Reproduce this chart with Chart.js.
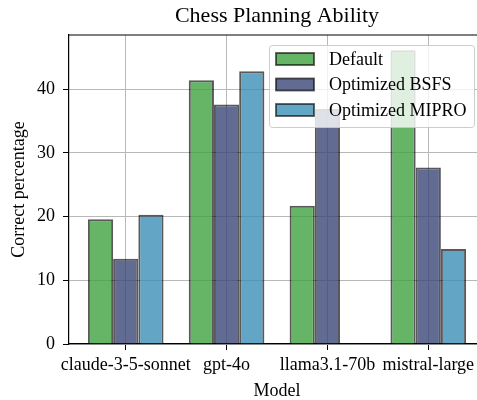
<!DOCTYPE html>
<html><head><meta charset="utf-8">
<script src="https://cdn.jsdelivr.net/npm/chart.js@4/dist/chart.umd.min.js"></script>
<style>html,body{margin:0;padding:0;overflow:hidden;background:#fff;width:477px;height:400px}canvas{display:block}</style>
</head><body>
<canvas id="c" width="485" height="400"></canvas>
<script>
const categories = ['claude-3-5-sonnet', 'gpt-4o', 'llama3.1-70b', 'mistral-large'];
const seriesNames = ['Default', 'Optimized BSFS', 'Optimized MIPRO'];
const defaultValues = [19.6, 41.4, 21.7, 46.1];
const bsfsValues = [13.4, 37.6, 36.9, 27.7];
const miproValues = [20.3, 42.8, null, 14.9];
const yTicks = [0, 10, 20, 30, 40];

const FONT = "'Liberation Serif', 'Times New Roman', serif";
const fills = ['rgba(64,161,64,0.8)', 'rgba(59,70,119,0.8)', 'rgba(60,143,182,0.8)'];
const edge = 'rgba(0,0,0,0.65)';

function toPoints(vals) { return vals.map((v, i) => ({x: i, y: v})); }
const seriesValues = [defaultValues, bsfsValues, miproValues];

const datasets = seriesNames.map((name, k) => ({
  label: name,
  data: toPoints(seriesValues[k]),
  backgroundColor: fills[k],
  borderColor: edge,
  borderWidth: 2,
  categoryPercentage: 0.75,
  barPercentage: 1.0
}));

const framePlugin = {
  id: 'frameAndLegend',
  afterDatasetsDraw(chart) {
    const ctx = chart.ctx, a = chart.chartArea;
    ctx.save();
    ctx.strokeStyle = '#000'; ctx.lineWidth = 1.2;
    ctx.beginPath(); ctx.moveTo(a.left, a.top); ctx.lineTo(a.right, a.top); ctx.stroke();
    ctx.beginPath(); ctx.moveTo(a.right, a.top); ctx.lineTo(a.right, a.bottom); ctx.stroke();
    const bx = a.right - 216, by = a.top + 10, bw = 205, bh = 82;
    ctx.fillStyle = 'rgba(255,255,255,0.8)';
    ctx.strokeStyle = 'rgba(200,200,200,0.9)';
    ctx.lineWidth = 1;
    ctx.beginPath();
    if (ctx.roundRect) ctx.roundRect(bx + 0.5, by + 0.5, bw, bh, 3); else ctx.rect(bx + 0.5, by + 0.5, bw, bh);
    ctx.fill(); ctx.stroke();
    ctx.font = '18px ' + FONT;
    ctx.textBaseline = 'middle';
    ctx.textAlign = 'left';
    chart.data.datasets.forEach((ds, i) => {
      const cy = by + 14 + i * 25.5;
      ctx.fillStyle = ds.backgroundColor;
      ctx.fillRect(bx + 7, cy - 6, 38, 12);
      ctx.strokeStyle = ds.borderColor; ctx.lineWidth = 1.8;
      ctx.strokeRect(bx + 7, cy - 6, 38, 12);
      ctx.fillStyle = '#000';
      ctx.fillText(ds.label, bx + 60, cy + 1);
    });
    ctx.restore();
  }
};

new Chart(document.getElementById('c'), {
  type: 'bar',
  data: {datasets},
  options: {
    responsive: false,
    animation: false,
    layout: {padding: 0},
    plugins: {
      legend: {display: false},
      tooltip: {enabled: false},
      title: {
        display: true, text: 'Chess Planning Ability', fullSize: false,
        color: '#000', font: {family: FONT, size: 22, weight: 'normal', lineHeight: 1.2},
        padding: {top: 3, bottom: 5.6}
      }
    },
    scales: {
      x: {
        type: 'linear', offset: false,
        min: -0.5625, max: 3.5625,
        afterFit(s) { s.height = 56; },
        afterBuildTicks(s) { s.ticks = categories.map((_, i) => ({value: i})); },
        ticks: {
          callback: (v) => categories[v] ?? '',
          color: '#000', font: {family: FONT, size: 18}, padding: 4, maxRotation: 0, autoSkip: false
        },
        grid: {color: '#b8b8b8', lineWidth: 1, offset: false, tickColor: '#000', tickLength: 6},
        border: {color: '#000', width: 1.2},
        title: {display: true, text: 'Model', color: '#000', font: {family: FONT, size: 18, lineHeight: 1}, padding: {top: 0, bottom: 0}}
      },
      y: {
        min: 0, max: 48.5,
        afterFit(s) { s.width = 69; },
        afterBuildTicks(s) { s.ticks = yTicks.map(v => ({value: v})); },
        ticks: {color: '#000', font: {family: FONT, size: 18}, padding: 8},
        grid: {color: '#b8b8b8', lineWidth: 1, tickColor: '#000', tickLength: 6},
        border: {color: '#000', width: 1.2},
        title: {display: true, text: 'Correct percentage', color: '#000', font: {family: FONT, size: 18}, padding: {top: 8, bottom: 0}}
      }
    }
  },
  plugins: [framePlugin]
});
</script>
</body></html>
